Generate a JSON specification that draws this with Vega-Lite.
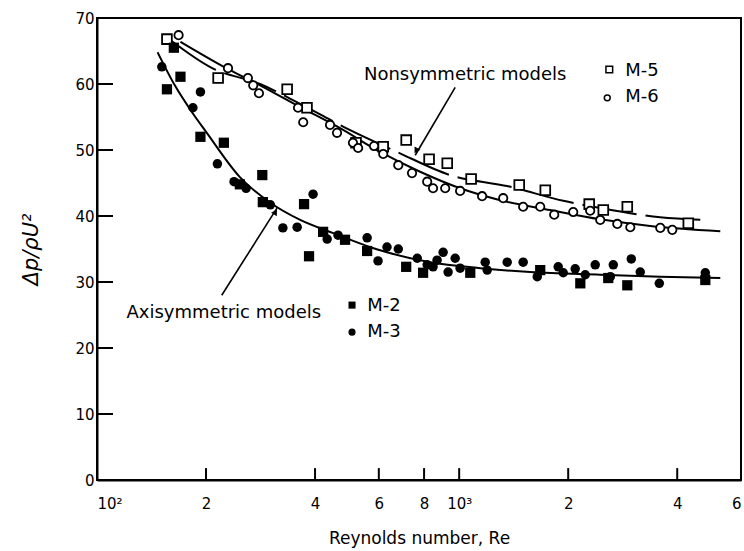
{
  "$schema": "https://vega.github.io/schema/vega-lite/v6.json",
  "width": 644,
  "height": 462,
  "autosize": "none",
  "padding": {"left": 97, "top": 18, "right": 3, "bottom": 71},
  "background": "white",
  "config": {
    "view": {"stroke": "black", "strokeWidth": 2},
    "font": "DejaVu Sans",
    "axis": {
      "grid": false,
      "ticks": false,
      "domainColor": "black",
      "domainWidth": 2,
      "labelColor": "black",
      "titleColor": "black",
      "labelFont": "DejaVu Sans",
      "titleFont": "DejaVu Sans",
      "titleFontWeight": "normal",
      "labelOverlap": false
    }
  },
  "datasets": {
    "curves": [
      {"curve": "axi", "re": 147, "v": 64.8}, {"curve": "axi", "re": 164, "v": 59.8}, {"curve": "axi", "re": 181, "v": 56.1},
      {"curve": "axi", "re": 201, "v": 52.6}, {"curve": "axi", "re": 248, "v": 45.9}, {"curve": "axi", "re": 301, "v": 42.0},
      {"curve": "axi", "re": 364, "v": 39.4}, {"curve": "axi", "re": 449, "v": 37.4}, {"curve": "axi", "re": 605, "v": 34.8},
      {"curve": "axi", "re": 832, "v": 33.0}, {"curve": "axi", "re": 1143, "v": 32.1}, {"curve": "axi", "re": 1572, "v": 31.5},
      {"curve": "axi", "re": 2452, "v": 31.1}, {"curve": "axi", "re": 3591, "v": 30.8}, {"curve": "axi", "re": 5260, "v": 30.6},
      {"curve": "m6", "re": 170, "v": 66.4}, {"curve": "m6", "re": 233, "v": 62.1}, {"curve": "m6", "re": 282, "v": 59.8},
      {"curve": "m6", "re": 364, "v": 56.5}, {"curve": "m6", "re": 469, "v": 53.3}, {"curve": "m6", "re": 605, "v": 49.7},
      {"curve": "m6", "re": 780, "v": 46.7}, {"curve": "m6", "re": 1006, "v": 44.2}, {"curve": "m6", "re": 1298, "v": 42.4},
      {"curve": "m6", "re": 1784, "v": 40.9}, {"curve": "m6", "re": 2452, "v": 39.5}, {"curve": "m6", "re": 3370, "v": 38.5},
      {"curve": "m6", "re": 5260, "v": 37.7},
      {"curve": "m5", "re": 159, "v": 66.7}, {"curve": "m5", "re": 208, "v": 62.4}, {"curve": "m5", "re": 282, "v": 60.0},
      {"curve": "m5", "re": 364, "v": 57.0}, {"curve": "m5", "re": 500, "v": 53.0}, {"curve": "m5", "re": 674, "v": 49.7},
      {"curve": "m5", "re": 944, "v": 46.2}, {"curve": "m5", "re": 1366, "v": 44.5}, {"curve": "m5", "re": 1938, "v": 42.3},
      {"curve": "m5", "re": 2452, "v": 41.2}, {"curve": "m5", "re": 3590, "v": 39.8}, {"curve": "m5", "re": 4721, "v": 39.4}
    ],
    "points": [
      {"s": "M-5", "re": 156, "v": 66.8}, {"s": "M-5", "re": 216, "v": 60.9}, {"s": "M-5", "re": 335, "v": 59.2},
      {"s": "M-5", "re": 380, "v": 56.4}, {"s": "M-5", "re": 519, "v": 51.1}, {"s": "M-5", "re": 617, "v": 50.5},
      {"s": "M-5", "re": 714, "v": 51.5}, {"s": "M-5", "re": 826, "v": 48.6}, {"s": "M-5", "re": 927, "v": 48.0},
      {"s": "M-5", "re": 1079, "v": 45.6}, {"s": "M-5", "re": 1465, "v": 44.7}, {"s": "M-5", "re": 1729, "v": 43.9},
      {"s": "M-5", "re": 2286, "v": 41.8}, {"s": "M-5", "re": 2500, "v": 40.9}, {"s": "M-5", "re": 2912, "v": 41.4},
      {"s": "M-5", "re": 4292, "v": 38.9},
      {"s": "M-6", "re": 168, "v": 67.4}, {"s": "M-6", "re": 230, "v": 62.4}, {"s": "M-6", "re": 261, "v": 60.9},
      {"s": "M-6", "re": 270, "v": 59.8}, {"s": "M-6", "re": 280, "v": 58.6}, {"s": "M-6", "re": 359, "v": 56.4},
      {"s": "M-6", "re": 371, "v": 54.2}, {"s": "M-6", "re": 440, "v": 53.8}, {"s": "M-6", "re": 460, "v": 52.6},
      {"s": "M-6", "re": 509, "v": 51.1}, {"s": "M-6", "re": 526, "v": 50.3}, {"s": "M-6", "re": 582, "v": 50.6},
      {"s": "M-6", "re": 617, "v": 49.4}, {"s": "M-6", "re": 679, "v": 47.7}, {"s": "M-6", "re": 741, "v": 46.5},
      {"s": "M-6", "re": 816, "v": 45.2}, {"s": "M-6", "re": 847, "v": 44.2}, {"s": "M-6", "re": 915, "v": 44.2},
      {"s": "M-6", "re": 1006, "v": 43.8}, {"s": "M-6", "re": 1157, "v": 43.0}, {"s": "M-6", "re": 1323, "v": 42.7},
      {"s": "M-6", "re": 1502, "v": 41.4}, {"s": "M-6", "re": 1674, "v": 41.4}, {"s": "M-6", "re": 1830, "v": 40.2},
      {"s": "M-6", "re": 2065, "v": 40.6}, {"s": "M-6", "re": 2300, "v": 40.8}, {"s": "M-6", "re": 2452, "v": 39.4},
      {"s": "M-6", "re": 2733, "v": 38.8}, {"s": "M-6", "re": 2968, "v": 38.3}, {"s": "M-6", "re": 3592, "v": 38.2},
      {"s": "M-6", "re": 3877, "v": 37.9},
      {"s": "M-2", "re": 156, "v": 59.2}, {"s": "M-2", "re": 170, "v": 61.1}, {"s": "M-2", "re": 163, "v": 65.5},
      {"s": "M-2", "re": 193, "v": 52.0}, {"s": "M-2", "re": 224, "v": 51.1}, {"s": "M-2", "re": 286, "v": 46.2},
      {"s": "M-2", "re": 248, "v": 44.8}, {"s": "M-2", "re": 287, "v": 42.1}, {"s": "M-2", "re": 373, "v": 41.8},
      {"s": "M-2", "re": 385, "v": 33.9}, {"s": "M-2", "re": 421, "v": 37.6}, {"s": "M-2", "re": 484, "v": 36.4},
      {"s": "M-2", "re": 557, "v": 34.7}, {"s": "M-2", "re": 714, "v": 32.3}, {"s": "M-2", "re": 795, "v": 31.4},
      {"s": "M-2", "re": 1073, "v": 31.4}, {"s": "M-2", "re": 1674, "v": 31.8}, {"s": "M-2", "re": 2160, "v": 29.8},
      {"s": "M-2", "re": 2580, "v": 30.6}, {"s": "M-2", "re": 2912, "v": 29.5}, {"s": "M-2", "re": 4782, "v": 30.3},
      {"s": "M-3", "re": 151, "v": 62.6}, {"s": "M-3", "re": 193, "v": 58.8}, {"s": "M-3", "re": 184, "v": 56.4},
      {"s": "M-3", "re": 215, "v": 47.9}, {"s": "M-3", "re": 239, "v": 45.2}, {"s": "M-3", "re": 258, "v": 44.2},
      {"s": "M-3", "re": 301, "v": 41.7}, {"s": "M-3", "re": 395, "v": 43.3}, {"s": "M-3", "re": 326, "v": 38.2},
      {"s": "M-3", "re": 357, "v": 38.3}, {"s": "M-3", "re": 432, "v": 36.5}, {"s": "M-3", "re": 463, "v": 37.1},
      {"s": "M-3", "re": 557, "v": 36.7}, {"s": "M-3", "re": 597, "v": 33.2}, {"s": "M-3", "re": 632, "v": 35.3},
      {"s": "M-3", "re": 679, "v": 35.0}, {"s": "M-3", "re": 766, "v": 33.6}, {"s": "M-3", "re": 816, "v": 32.6},
      {"s": "M-3", "re": 869, "v": 33.3}, {"s": "M-3", "re": 903, "v": 34.5}, {"s": "M-3", "re": 847, "v": 32.3},
      {"s": "M-3", "re": 932, "v": 31.5}, {"s": "M-3", "re": 975, "v": 33.6}, {"s": "M-3", "re": 1006, "v": 32.1},
      {"s": "M-3", "re": 1180, "v": 33.0}, {"s": "M-3", "re": 1195, "v": 31.8}, {"s": "M-3", "re": 1357, "v": 33.0},
      {"s": "M-3", "re": 1502, "v": 33.0}, {"s": "M-3", "re": 1643, "v": 30.8}, {"s": "M-3", "re": 1877, "v": 32.3},
      {"s": "M-3", "re": 1938, "v": 31.4}, {"s": "M-3", "re": 2091, "v": 32.0}, {"s": "M-3", "re": 2375, "v": 32.6},
      {"s": "M-3", "re": 2229, "v": 31.1}, {"s": "M-3", "re": 2664, "v": 32.6}, {"s": "M-3", "re": 2987, "v": 33.5},
      {"s": "M-3", "re": 3162, "v": 31.5}, {"s": "M-3", "re": 3569, "v": 29.8}, {"s": "M-3", "re": 4782, "v": 31.4},
      {"s": "M-3", "re": 2614, "v": 30.8}
    ],
    "tickmarks": [
      {"re": 100, "v": 10, "re2": 110.7, "v2": 10},
      {"re": 100, "v": 20, "re2": 110.7, "v2": 20},
      {"re": 100, "v": 30, "re2": 110.7, "v2": 30},
      {"re": 100, "v": 40, "re2": 110.7, "v2": 40},
      {"re": 100, "v": 50, "re2": 110.7, "v2": 50},
      {"re": 100, "v": 60, "re2": 110.7, "v2": 60},
      {"re": 100, "v": 70, "re2": 110.7, "v2": 70},
      {"re": 200, "v": 0, "re2": 200, "v2": 1.8},
      {"re": 400, "v": 0, "re2": 400, "v2": 1.8},
      {"re": 600, "v": 0, "re2": 600, "v2": 1.8},
      {"re": 800, "v": 0, "re2": 800, "v2": 1.8},
      {"re": 1000, "v": 0, "re2": 1000, "v2": 1.8},
      {"re": 2000, "v": 0, "re2": 2000, "v2": 1.8},
      {"re": 4000, "v": 0, "re2": 4000, "v2": 1.8}
    ],
    "keys": [
      {"s": "M-5", "re": 2597, "v": 62.2},
      {"s": "M-6", "re": 2564, "v": 57.9},
      {"s": "M-2", "re": 506, "v": 26.5},
      {"s": "M-3", "re": 506, "v": 22.4}
    ],
    "names": [
      {"label": "Nonsymmetric models", "re": 1039, "v": 61.4},
      {"label": "Axisymmetric models", "re": 224, "v": 25.3}
    ],
    "keylabels": [
      {"label": "M-5", "re": 2875, "v": 61.9},
      {"label": "M-6", "re": 2875, "v": 58.0},
      {"label": "M-2", "re": 557, "v": 26.3},
      {"label": "M-3", "re": 557, "v": 22.5}
    ],
    "arrows": [
      {"name": "non", "re": 975, "v": 59.5, "re2": 756, "v2": 49.2},
      {"name": "axi", "re": 221, "v": 28.0, "re2": 314, "v2": 41.2}
    ],
    "heads": [
      {"name": "non", "re": 760, "v": 49.9},
      {"name": "axi", "re": 311, "v": 40.6}
    ]
  },
  "encoding": {
    "x": {
      "field": "re",
      "type": "quantitative",
      "scale": {"type": "log", "domain": [100, 6000], "nice": false},
      "axis": {
        "title": "Reynolds number, Re",
        "values": [100, 200, 400, 600, 800, 1000, 2000, 4000, 6000],
        "labelExpr": "datum.value == 100 ? '10²' : datum.value == 1000 ? '10³' : datum.value < 1000 ? format(datum.value / 100, 'd') : format(datum.value / 1000, 'd')",
        "labelFlush": true,
        "labelPadding": 16,
        "labelFontSize": 15,
        "titleFontSize": 17,
        "titlePadding": 19
      }
    },
    "y": {
      "field": "v",
      "type": "quantitative",
      "scale": {"domain": [0, 70], "nice": false},
      "axis": {
        "title": "Δp/ρU²",
        "values": [0, 10, 20, 30, 40, 50, 60, 70],
        "labelFlush": false,
        "labelPadding": 3,
        "labelFontSize": 15,
        "titleFontSize": 21,
        "titleFontStyle": "italic",
        "titlePadding": 33
      }
    }
  },
  "layer": [
    {
      "data": {"name": "curves"},
      "transform": [{"filter": "datum.curve != 'm5'"}],
      "mark": {"type": "line", "color": "black", "strokeWidth": 2, "interpolate": "monotone"},
      "encoding": {"detail": {"field": "curve"}}
    },
    {
      "data": {"name": "curves"},
      "transform": [{"filter": "datum.curve == 'm5'"}],
      "mark": {"type": "line", "color": "black", "strokeWidth": 2, "strokeDash": [55, 9], "interpolate": "monotone"},
      "encoding": {}
    },
    {
      "data": {"name": "arrows"},
      "mark": {"type": "rule", "color": "black", "strokeWidth": 1.6},
      "encoding": {"x2": {"field": "re2"}, "y2": {"field": "v2"}}
    },
    {
      "data": {"name": "tickmarks"},
      "mark": {"type": "rule", "color": "black", "strokeWidth": 2},
      "encoding": {"x2": {"field": "re2"}, "y2": {"field": "v2"}}
    },
    {
      "data": {"name": "heads"},
      "transform": [{"filter": "datum.name == 'non'"}],
      "mark": {"type": "point", "shape": "triangle-up", "filled": true, "color": "black", "opacity": 1, "size": 45, "angle": 210},
      "encoding": {}
    },
    {
      "data": {"name": "heads"},
      "transform": [{"filter": "datum.name == 'axi'"}],
      "mark": {"type": "point", "shape": "triangle-up", "filled": true, "color": "black", "opacity": 1, "size": 45, "angle": 32},
      "encoding": {}
    },
    {
      "data": {"name": "points"},
      "transform": [{"filter": "datum.s == 'M-5'"}],
      "mark": {"type": "point", "shape": "square", "filled": true, "fill": "white", "stroke": "black", "strokeWidth": 1.8, "opacity": 1, "size": 95},
      "encoding": {}
    },
    {
      "data": {"name": "points"},
      "transform": [{"filter": "datum.s == 'M-6'"}],
      "mark": {"type": "point", "shape": "circle", "filled": true, "fill": "white", "stroke": "black", "strokeWidth": 1.8, "opacity": 1, "size": 70},
      "encoding": {}
    },
    {
      "data": {"name": "points"},
      "transform": [{"filter": "datum.s == 'M-2'"}],
      "mark": {"type": "point", "shape": "square", "filled": true, "fill": "black", "opacity": 1, "size": 105},
      "encoding": {}
    },
    {
      "data": {"name": "points"},
      "transform": [{"filter": "datum.s == 'M-3'"}],
      "mark": {"type": "point", "shape": "circle", "filled": true, "fill": "black", "opacity": 1, "size": 90},
      "encoding": {}
    },
    {
      "data": {"name": "keys"},
      "transform": [{"filter": "datum.s == 'M-5'"}],
      "mark": {"type": "point", "shape": "square", "filled": true, "fill": "white", "stroke": "black", "strokeWidth": 1.5, "opacity": 1, "size": 45},
      "encoding": {}
    },
    {
      "data": {"name": "keys"},
      "transform": [{"filter": "datum.s == 'M-6'"}],
      "mark": {"type": "point", "shape": "circle", "filled": true, "fill": "white", "stroke": "black", "strokeWidth": 1.5, "opacity": 1, "size": 35},
      "encoding": {}
    },
    {
      "data": {"name": "keys"},
      "transform": [{"filter": "datum.s == 'M-2'"}],
      "mark": {"type": "point", "shape": "square", "filled": true, "fill": "black", "opacity": 1, "size": 50},
      "encoding": {}
    },
    {
      "data": {"name": "keys"},
      "transform": [{"filter": "datum.s == 'M-3'"}],
      "mark": {"type": "point", "shape": "circle", "filled": true, "fill": "black", "opacity": 1, "size": 50},
      "encoding": {}
    },
    {
      "data": {"name": "names"},
      "mark": {"type": "text", "align": "center", "baseline": "middle", "font": "DejaVu Sans", "fontSize": 18, "color": "black"},
      "encoding": {"text": {"field": "label"}}
    },
    {
      "data": {"name": "keylabels"},
      "mark": {"type": "text", "align": "left", "baseline": "middle", "font": "DejaVu Sans", "fontSize": 18, "color": "black"},
      "encoding": {"text": {"field": "label"}}
    }
  ]
}
